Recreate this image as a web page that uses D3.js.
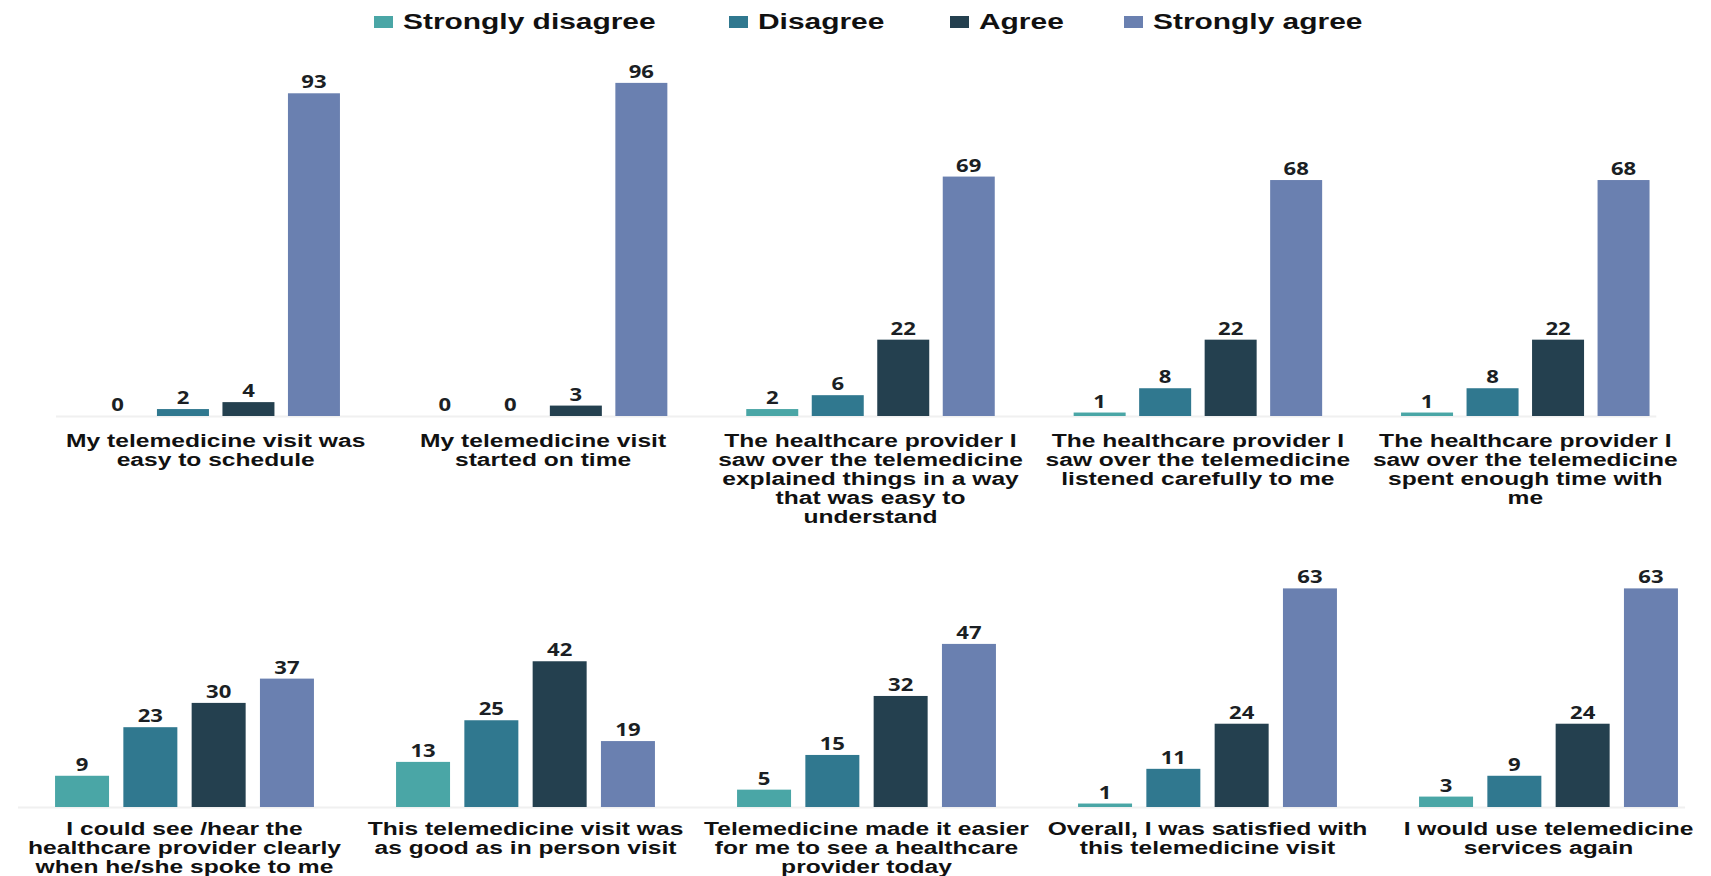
<!DOCTYPE html>
<html>
<head>
<meta charset="utf-8">
<script src="https://cdn.jsdelivr.net/npm/d3@7"></script>
<style>
  html, body { margin: 0; padding: 0; background: #fff; }
  svg { display: block; }
</style>
</head>
<body>
<svg id="chart" width="1711" height="876"></svg>
<script>
// Telemedicine satisfaction survey: two rows of grouped bars, 4 answers per statement.

const series = ["Strongly disagree", "Disagree", "Agree", "Strongly agree"];
const colors = ["#4aa6a6", "#30788f", "#24404f", "#6a80b0"];

const topLabels = [
  ["My telemedicine visit was", "easy to schedule"],
  ["My telemedicine visit", "started on time"],
  ["The healthcare provider I", "saw over the telemedicine", "explained things in a way", "that was easy to", "understand"],
  ["The healthcare provider I", "saw over the telemedicine", "listened carefully to me"],
  ["The healthcare provider I", "saw over the telemedicine", "spent enough time with", "me"]
];
const bottomLabels = [
  ["I could see /hear the", "healthcare provider clearly", "when he/she spoke to me"],
  ["This telemedicine visit was", "as good as in person visit"],
  ["Telemedicine made it easier", "for me to see a healthcare", "provider today"],
  ["Overall, I was satisfied with", "this telemedicine visit"],
  ["I would use telemedicine", "services again"]
];

// values per statement, in series order (top row then bottom row)
const stronglyDisagree = [0, 0, 2, 1, 1, 9, 13, 5, 1, 3];
const disagree         = [2, 0, 6, 8, 8, 23, 25, 15, 11, 9];
const agree            = [4, 3, 22, 22, 22, 30, 42, 32, 24, 24];
const stronglyAgree    = [93, 96, 69, 68, 68, 37, 19, 47, 63, 63];

const svg = d3.select("#chart");
const SX = 1.36; // the original text is stretched sideways

function stretchedText(sel, x, y, sx = SX) {
  return sel.attr("transform", `translate(${x},${y}) scale(${sx},1)`);
}

// -- legend --
const legendX = [374, 729, 950, 1124];
series.forEach((s, i) => {
  const g = svg.append("g");
  g.append("rect")
    .attr("x", legendX[i]).attr("y", 16)
    .attr("width", 19).attr("height", 12)
    .attr("fill", colors[i]);
  stretchedText(g.append("text"), legendX[i] + 29, 29)
    .attr("font-family", "'Liberation Sans', Arial, sans-serif")
    .attr("font-weight", "bold")
    .attr("font-size", 22)
    .attr("fill", "#111")
    .text(s);
});

// -- one row of grouped bars --
function drawRow(opts) {
  const { labels, offset, base, range, barW, step, labelY } = opts;
  const n = labels.length;
  const rows = d3.range(n).map(i => {
    const k = offset + i;
    return [stronglyDisagree[k], disagree[k], agree[k], stronglyAgree[k]];
  });

  const x0 = d3.scaleBand().domain(d3.range(n)).range(range);
  const half = step * 2;
  const x1 = d3.scaleBand().domain(d3.range(4)).range([-half, half])
    .paddingInner((step - barW) / step).paddingOuter((step - barW) / step / 2);
  const y = d3.scaleLinear().domain([0, 100]).range([base, base - 347]);

  // faint baseline
  svg.append("line")
    .attr("x1", range[0] + 4).attr("x2", x0(n - 1) + x0.bandwidth() / 2 + half)
    .attr("y1", base + 0.5).attr("y2", base + 0.5)
    .attr("stroke", "#f0f0f0").attr("stroke-width", 2);

  const groups = svg.append("g").selectAll("g")
    .data(rows).join("g")
    .attr("transform", (d, i) => `translate(${x0(i) + x0.bandwidth() / 2},0)`);

  groups.selectAll("rect")
    .data(d => d).join("rect")
    .attr("x", (d, j) => x1(j))
    .attr("y", d => y(d))
    .attr("width", x1.bandwidth())
    .attr("height", d => base - y(d))
    .attr("fill", (d, j) => colors[j]);

  groups.selectAll("text.val")
    .data(d => d).join("text")
    .attr("class", "val")
    .each(function(d, j) {
      stretchedText(d3.select(this), x1(j) + x1.bandwidth() / 2, y(d) - 5, 1.3);
    })
    .attr("text-anchor", "middle")
    .attr("font-family", "'Open Sans', 'Noto Sans', sans-serif")
    .attr("font-weight", "bold")
    .attr("font-size", 17)
    .attr("fill", "#1b1f24")
    .text(d => d);

  // statement labels
  groups.each(function(d, i) {
    const g = d3.select(this);
    labels[i].forEach((line, li) => {
      stretchedText(g.append("text"), 0, labelY + li * 19, 1.33)
        .attr("text-anchor", "middle")
        .attr("font-family", "'Liberation Sans', Arial, sans-serif")
        .attr("font-weight", "bold")
        .attr("font-size", 18.5)
        .attr("fill", "#111")
        .text(line);
    });
  });
}

drawRow({ labels: topLabels, offset: 0, base: 416, range: [52, 1689], barW: 52, step: 65.5, labelY: 447 });
drawRow({ labels: bottomLabels, offset: 5, base: 807, range: [14, 1719], barW: 54, step: 68.3, labelY: 835 });
</script>
</body>
</html>
